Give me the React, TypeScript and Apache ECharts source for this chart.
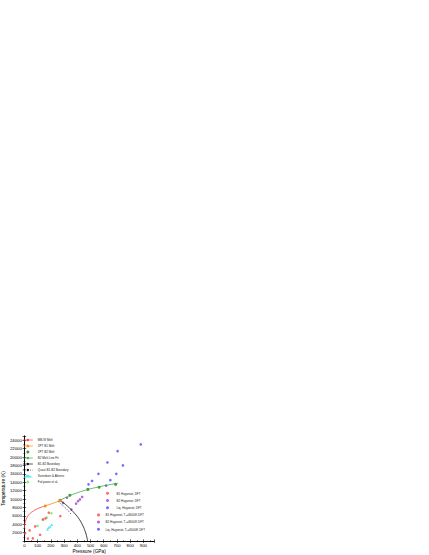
import React, { useEffect, useRef } from "react";
import * as echarts from "echarts";

// ---- data (Pressure GPa, Temperature K) ----
const mbwMelt = [[0, 3000], [4, 4200], [14, 5200], [35, 6300], [70, 7200], [110, 7850], [158, 8350]];
const b1Melt2PT = [[158, 8350], [270, 9600]];
const b2Melt2PT = [[270, 9700], [344, 10900], [480, 12300], [565, 12800], [690, 13500]];
const b2MeltFit = [[258, 9500], [300, 10200], [350, 10900], [400, 11500], [450, 12000], [500, 12450], [550, 12800], [600, 13150], [650, 13450], [708, 13750]];
const b1b2Boundary = [[268, 9700], [300, 9000], [340, 7900], [380, 6600], [415, 5200], [440, 3800], [460, 2300], [472, 1000], [478, 0]];
const quasiBoundary = [[255, 9400], [285, 8600], [320, 7600], [356, 6300]];
const svendsenAhrens = [[175, 2800], [183, 3200], [195, 3500], [207, 3900]];
const fatyanov = [[100, 3600], [140, 5100], [170, 5600], [205, 6600]];
const b1HugDFT = [[5, 1850], [40, 2550], [82, 3500], [141, 5150], [185, 6750], [272, 5950]];
const b2HugDFT = [[356, 7500], [391, 8900], [406, 9500], [420, 9900], [437, 10500]];
const liqHugDFT = [[485, 13500], [512, 14300], [560, 16000], [628, 18700], [705, 21400], [880, 23000]];
const b1HugTi = [[27, 600], [64, 650], [119, 1500], [160, 5400]];
const b2HugTi = [[292, 9100], [322, 10300]];
const liqHugTi = [[618, 13200], [650, 14500], [695, 16000], [745, 18000]];

const leftNames = ["MB-W Melt", "2PT B1 Melt", "2PT B2 Melt", "B2 Melt Line Fit", "B1-B2 Boundary", "Quasi B1-B2 Boundary", "Svendsen & Ahrens", "Fat'yanov et al."];
const rightNamesA = ["B1 Hugoniot, DFT", "B2 Hugoniot, DFT", "Liq. Hugoniot, DFT"];
const rightNamesB = ["B1 Hugoniot, T\u2080=8000K DFT", "B2 Hugoniot, T\u2080=8000K DFT", "Liq. Hugoniot, T\u2080=8000K DFT"];

const FONT = "Liberation Sans, Arial, sans-serif";

export default function App() {
  const ref = useRef<HTMLDivElement>(null);
  useEffect(() => {
    if (!ref.current) return;
    const chart = echarts.init(ref.current, undefined, { renderer: "svg" });
    const axisLine = { show: true, lineStyle: { color: "#000", width: 0.8 } };
    const sc = (name: string, data: number[][], color: string, symbol = "circle", size = 2.6) => ({
      name, type: "scatter", data, symbol, symbolSize: size, itemStyle: { color },
    });
    const ln = (name: string, data: number[][], color: string, extra: any = {}) => ({
      name, type: "line", data, smooth: true, symbol: "none", lineStyle: { color, width: 0.8 }, itemStyle: { color }, ...extra,
    });
    const legendBase = {
      orient: "vertical", padding: 0, itemGap: 3, itemHeight: 3,
      lineStyle: { width: 0.7 },
      textStyle: { fontSize: 3, lineHeight: 3, color: "#222", fontFamily: FONT },
    };
    chart.setOption({
      animation: false,
      textStyle: { fontFamily: FONT },
      grid: { left: 22.3, right: 275, top: 436, bottom: 13.9 },
      xAxis: [
        {
          type: "value", min: 0, max: 980, interval: 100, position: "bottom",
          axisLine, splitLine: { show: false },
          axisTick: { inside: true, length: 1.8, lineStyle: { color: "#000", width: 0.6 } },
          minorTick: { show: true, splitNumber: 2, length: 1, lineStyle: { color: "#000", width: 0.5 } },
          axisLabel: { fontSize: 4.3, margin: 2.5, color: "#000", formatter: (v: number) => (v % 100 === 0 ? String(v) : "") },
          name: "Pressure (GPa)", nameLocation: "middle", nameGap: 7.5,
          nameTextStyle: { fontSize: 4.8, color: "#000" },
        },
        {
          type: "value", min: 0, max: 980, interval: 100, position: "top",
          axisLine, splitLine: { show: false },
          axisTick: { inside: true, length: 1.8, lineStyle: { color: "#000", width: 0.6 } },
          minorTick: { show: true, splitNumber: 2, length: 1, lineStyle: { color: "#000", width: 0.5 } },
          axisLabel: { show: false },
        },
      ],
      yAxis: [
        {
          type: "value", min: 0, max: 25000, interval: 2000, position: "left",
          axisLine, splitLine: { show: false },
          axisTick: { inside: true, length: 1.8, lineStyle: { color: "#000", width: 0.6 } },
          minorTick: { show: true, splitNumber: 2, length: 1, lineStyle: { color: "#000", width: 0.5 } },
          axisLabel: { fontSize: 4.3, margin: 2.5, color: "#000", formatter: (v: number) => (v > 0 && v % 2000 === 0 ? String(v) : "") },
          name: "Temperature (K)", nameLocation: "middle", nameGap: 15, nameRotate: 90,
          nameTextStyle: { fontSize: 4.8, color: "#000" },
        },
        {
          type: "value", min: 0, max: 25000, interval: 2000, position: "right",
          axisLine, splitLine: { show: false },
          axisTick: { inside: true, length: 1.8, lineStyle: { color: "#000", width: 0.6 } },
          minorTick: { show: true, splitNumber: 2, length: 1, lineStyle: { color: "#000", width: 0.5 } },
          axisLabel: { show: false },
        },
      ],
      legend: [
        { ...legendBase, data: leftNames, left: 22.5, top: 438.5, itemWidth: 10 },
        { ...legendBase, data: rightNamesA, left: 106, top: 491.8, itemWidth: 8, itemGap: 4.2 },
        { ...legendBase, data: rightNamesB, left: 97, top: 513.4, itemWidth: 4, itemGap: 4.2 },
      ],
      series: [
        ln("MB-W Melt", mbwMelt, "#ff3b3b"),
        ln("2PT B1 Melt", b1Melt2PT, "#ff8c1a", { smooth: false, symbol: "rect", symbolSize: 2.6, showSymbol: true }),
        sc("2PT B2 Melt", b2Melt2PT, "#0e7d0e", "circle", 3),
        ln("B2 Melt Line Fit", b2MeltFit, "#3faa3f"),
        ln("B1-B2 Boundary", b1b2Boundary, "#111"),
        ln("Quasi B1-B2 Boundary", quasiBoundary, "#111", { lineStyle: { color: "#111", width: 0.9, type: [0.8, 1.6] } }),
        sc("Svendsen & Ahrens", svendsenAhrens, "#33e0f0", "triangle", 2.8),
        sc("Fat'yanov et al.", fatyanov, "#66f066", "circle", 2.6),
        sc("B1 Hugoniot, DFT", b1HugDFT, "#ff4444"),
        sc("B2 Hugoniot, DFT", b2HugDFT, "#a040c8"),
        sc("Liq. Hugoniot, DFT", liqHugDFT, "#4a4aff"),
        sc("B1 Hugoniot, T\u2080=8000K DFT", b1HugTi, "#ff4444"),
        sc("B2 Hugoniot, T\u2080=8000K DFT", b2HugTi, "#a040c8"),
        sc("Liq. Hugoniot, T\u2080=8000K DFT", liqHugTi, "#4a4aff"),
      ],
    });
    return () => chart.dispose();
  }, []);
  return <div ref={ref} style={{ position: "absolute", left: 0, top: 0, width: 429, height: 555 }} />;
}
